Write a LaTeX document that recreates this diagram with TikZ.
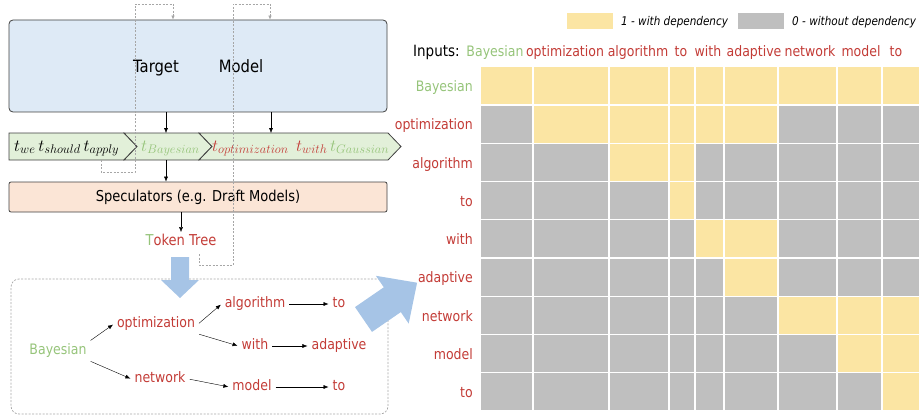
\RequirePackage{fix-cm}
\documentclass[tikz,border=0pt]{standalone}
\usepackage{fontspec}
\setmainfont{DejaVu Sans}[FakeStretch=0.87]
\usetikzlibrary{arrows.meta,positioning}
\DeclareMathSizes{17}{17}{12.5}{10}
\definecolor{tgtfill}{RGB}{222,234,246}
\definecolor{stripfill}{RGB}{226,240,217}
\definecolor{specfill}{RGB}{251,229,214}
\definecolor{edgegray}{RGB}{64,64,64}
\definecolor{loopgray}{RGB}{166,166,166}
\definecolor{arrowblue}{RGB}{166,196,230}
\definecolor{depyellow}{RGB}{251,229,163}
\definecolor{nodepgray}{RGB}{191,191,191}
\definecolor{tgreen}{RGB}{150,196,122}
\definecolor{tred}{RGB}{195,60,55}
\begin{document}
\begin{tikzpicture}[x=1pt, y=-1pt, node distance=84pt, >={Latex[length=5pt,width=4pt]},
    big box/.style={draw=edgegray, line width=0.8pt, rounded corners=4pt, inner sep=0pt},
    word/.style={font=\fontsize{14.4}{16}\selectfont, text height=10.5pt, text depth=3pt, inner sep=3pt},
    tok/.style={font=\fontsize{17}{19}\selectfont, anchor=base west, inner sep=0pt},
    chevron/.style={draw=edgegray, fill=stripfill, line width=0.8pt, line join=miter},
    loopline/.style={draw=loopgray, dash pattern=on 2pt off 1.5pt, line width=0.6pt, -{Latex[length=4pt,width=3.5pt]}},
    cell/.style={draw=white, line width=1.2pt}]
  \useasboundingbox (0,0) rectangle (920,417);

  % target model
  \node[big box, fill=tgtfill, minimum width=378pt, minimum height=92pt] (target) at (198,66) {};
  \node[font=\fontsize{17}{20}\selectfont, anchor=base] (tgt) at (156,73) {Target};
  \node[font=\fontsize{17}{20}\selectfont, anchor=base] (mdl) at (241,73) {Model};

  % token strip
  \filldraw[chevron] (9,133) -- (124,133) -- (137,146.5) -- (124,160) -- (9,160) -- cycle;
  \filldraw[chevron] (124,133) -- (199,133) -- (212,146.5) -- (199,160) -- (124,160) -- (137,146.5) -- cycle;
  \filldraw[chevron] (199,133) -- (388,133) -- (401,146.5) -- (388,160) -- (199,160) -- (212,146.5) -- cycle;
  \node[tok] (tk1) at (14,151) {$t_{we}\,t_{should}\,t_{apply}$};
  \node[tok, text=tgreen] (tk2) at (141,151) {$t_{Bayesian}$};
  \node[tok, text=tred] (tk3) at (212,151) {$t_{optimization}$};
  \node[tok, text=tred] (tk4) at (296,151) {$t_{with}$};
  \node[tok, text=tgreen] (tk5) at (330,151) {$t_{Gaussian}$};

  \coordinate (in1) at (166,133);
  \coordinate (in2) at (271,133);
  \coordinate (out1) at (166,160);
  \draw[->] (target.south -| in1) -- (in1);
  \draw[->] (target.south -| in2) -- (in2);

  % speculators
  \node[big box, fill=specfill, minimum width=378pt, minimum height=30pt, rounded corners=2pt,
        font=\fontsize{15}{18}\selectfont] (spec) at (198,197) {Speculators (e.g. Draft Models)};
  \draw[->] (out1) -- (spec.north -| out1);

  \node[word, font=\fontsize{15}{18}\selectfont] (tree) at (181,242) {\textcolor{tgreen}{T}\textcolor{tred}{oken Tree}};
  \draw[->] (spec.south -| tree.north) -- (tree.north);

  % token tree
  \node[draw=loopgray, dash pattern=on 2pt off 1.5pt, line width=0.7pt, rounded corners=8pt,
        minimum width=377pt, minimum height=135pt] (treebox) at (199.5,346.5) {};
  \fill[arrowblue] (171,257) -- (189,257) -- (189,280) -- (199,280) -- (180,298) -- (161,280) -- (171,280) -- cycle;

  \node[word, text=tgreen] (bay) at (58,351) {Bayesian};
  \node[word, text=tred] (opt) at (156,324) {optimization};
  \node[word, text=tred] (alg) at (255,304) {algorithm};
  \node[word, text=tred] (toA) [right of=alg] {to};
  \node[word, text=tred] (with) at (255,346) {with};
  \node[word, text=tred] (adap) [right of=with] {adaptive};
  \node[word, text=tred] (net) at (160,379) {network};
  \node[word, text=tred] (mod) at (252,387) {model};
  \node[word, text=tred, node distance=87pt] (toB) [right of=mod] {to};

  \path[->, shorten >=1pt, shorten <=1pt]
    (bay.north east) edge (opt.west)
    (bay.south east) edge (net.west)
    (opt.east) edge (alg.west)
    (opt.south east) edge (with.west)
    (alg) edge (toA)
    (with) edge (adap)
    (net.east) edge (mod.west)
    (mod) edge (toB);

  \fill[arrowblue] (355,307.1) -- (383.8,287.3) -- (375.9,275.8) -- (417.1,282.7) -- (408.7,323.6) -- (400.8,312.1) -- (372,331.9) -- cycle;

  % dashed feedback loops
  \coordinate (l1a) at (101,160);
  \coordinate (l1b) at (173,20);
  \coordinate (l2a) at (199,254);
  \coordinate (l2b) at (270,20);
  \draw[loopline] (l1a) -- (101,172) -- (135,172) -- (135,4) -- (173,4) -- (target.north -| l1b);
  \draw[loopline] (l2a) -- (199,265) -- (233,265) -- (233,4) -- (270,4) -- (target.north -| l2b);

  % legend
  \node[fill=depyellow, minimum width=46pt, minimum height=16pt, inner sep=0pt] (leg1) at (590,21) {};
  \node[anchor=base west, inner sep=0pt, font=\fontsize{12}{14}\selectfont\itshape] (leg1txt) at (621,25.5) {1 - with dependency};
  \node[fill=nodepgray, minimum width=46pt, minimum height=16pt, inner sep=0pt] (leg0) at (761,21) {};
  \node[anchor=base west, inner sep=0pt, font=\fontsize{12}{14}\selectfont\itshape] (leg0txt) at (792,25.5) {0 - without dependency};

  % dependency matrix
  \node[word, anchor=base west, inner sep=0pt, font=\fontsize{15.5}{18}\selectfont] (inputs) at (413,57) {Inputs:};
  \foreach \w/\col/\x [count=\i] in {Bayesian/tgreen/495, optimization/tred/565, algorithm/tred/638,
      to/tred/681, with/tred/708, adaptive/tred/754, network/tred/810, model/tred/861, to/tred/896}
    \node[word, anchor=base, inner sep=0pt, text=\col] (c\i) at (\x,57) {\w};

  \foreach \r/\e in {0/8,1/5,2/3,3/3,4/5,5/5,6/8,7/8,8/8}{
    \foreach \c in {0,...,8}{
      \pgfmathsetmacro\xa{{480,533,609,669,695,724,778,837,882,920}[\c]}
      \pgfmathsetmacro\xb{{480,533,609,669,695,724,778,837,882,920}[\c+1]}
      \pgfmathsetmacro\ya{66.7+38.25*\r}
      \pgfmathtruncatemacro\dep{(\c>=\r)&&(\c<=\e)}
      \ifnum\dep=1 \def\cellcol{depyellow}\else\def\cellcol{nodepgray}\fi
      \filldraw[cell, fill=\cellcol] (\xa,\ya) rectangle (\xb,\ya+38.25);
    }
  }

  \foreach \w/\col [count=\i from 0] in {Bayesian/tgreen, optimization/tred, algorithm/tred, to/tred,
      with/tred, adaptive/tred, network/tred, model/tred, to/tred}
    \node[word, anchor=base east, inner sep=0pt, text=\col] (r\i) at (473,91.5+38.25*\i) {\w};
\end{tikzpicture}
\end{document}
